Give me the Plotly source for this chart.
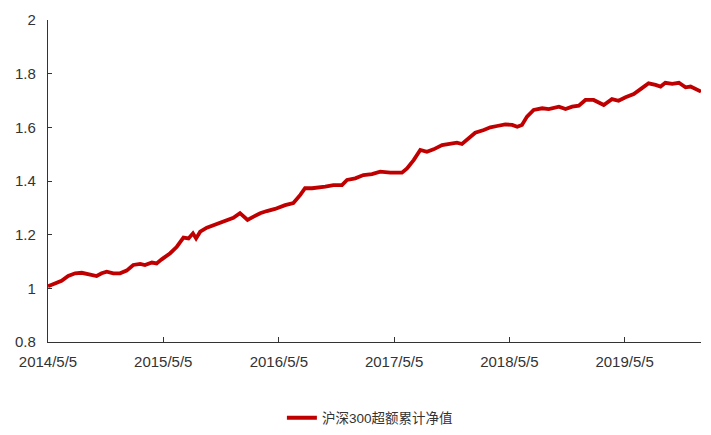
import plotly.graph_objects as go

dates = [
    "2014-05-05", "2014-05-27", "2014-06-17", "2014-07-08", "2014-07-30", "2014-08-20",
    "2014-09-10", "2014-10-06", "2014-10-22", "2014-11-07", "2014-11-28", "2014-12-19",
    "2015-01-09", "2015-01-30", "2015-02-21", "2015-03-08", "2015-03-30", "2015-04-14",
    "2015-04-30", "2015-05-27", "2015-06-17", "2015-07-08", "2015-07-24", "2015-08-07",
    "2015-08-17", "2015-08-30", "2015-09-20", "2015-10-11", "2015-11-01", "2015-11-22",
    "2015-12-13", "2016-01-03", "2016-01-27", "2016-02-15", "2016-03-07", "2016-03-28",
    "2016-04-23", "2016-05-25", "2016-06-20", "2016-07-12", "2016-07-27", "2016-08-18",
    "2016-09-08", "2016-09-29", "2016-10-25", "2016-11-21", "2016-12-07", "2017-01-02",
    "2017-01-28", "2017-02-24", "2017-03-22", "2017-04-23", "2017-05-30", "2017-06-15",
    "2017-07-06", "2017-07-27", "2017-08-17", "2017-09-07", "2017-10-04", "2017-10-30",
    "2017-11-20", "2017-12-06", "2017-12-27", "2018-01-17", "2018-02-13", "2018-03-06",
    "2018-03-27", "2018-04-22", "2018-05-14", "2018-05-30", "2018-06-14", "2018-06-30",
    "2018-07-21", "2018-08-17", "2018-09-07", "2018-10-09", "2018-10-30", "2018-11-20",
    "2018-12-11", "2019-01-01", "2019-01-27", "2019-02-17", "2019-02-28", "2019-03-26",
    "2019-04-16", "2019-05-08", "2019-06-03", "2019-06-29", "2019-07-20", "2019-08-11",
    "2019-08-27", "2019-09-11", "2019-10-03", "2019-10-24", "2019-11-14", "2019-11-30",
    "2019-12-21", "2020-01-02",
]
excess_nav = [
    1.008, 1.019, 1.028, 1.046, 1.056, 1.058,
    1.053, 1.046, 1.056, 1.062, 1.056, 1.056,
    1.066, 1.087, 1.091, 1.087, 1.096, 1.093,
    1.108, 1.131, 1.155, 1.189, 1.186, 1.205,
    1.186, 1.211, 1.226, 1.236, 1.246, 1.255,
    1.263, 1.280, 1.255, 1.267, 1.280, 1.288,
    1.296, 1.310, 1.318, 1.348, 1.373, 1.373,
    1.375, 1.379, 1.385, 1.385, 1.404, 1.410,
    1.422, 1.426, 1.435, 1.431, 1.431, 1.447,
    1.478, 1.516, 1.509, 1.518, 1.534, 1.541,
    1.543, 1.538, 1.559, 1.580, 1.590, 1.600,
    1.605, 1.611, 1.609, 1.602, 1.609, 1.640,
    1.665, 1.671, 1.668, 1.677, 1.668, 1.677,
    1.681, 1.702, 1.702, 1.690, 1.683, 1.705,
    1.699, 1.712, 1.724, 1.746, 1.764, 1.758,
    1.752, 1.766, 1.762, 1.766, 1.749, 1.752,
    1.742, 1.733,
]
series_name = "沪深300超额累计净值"

x_tick_vals = ["2014-05-05", "2015-05-05", "2016-05-05", "2017-05-05", "2018-05-05", "2019-05-05"]
x_tick_text = ["2014/5/5", "2015/5/5", "2016/5/5", "2017/5/5", "2018/5/5", "2019/5/5"]
y_tick_vals = [0.8, 1.0, 1.2, 1.4, 1.6, 1.8, 2.0]
y_tick_text = ["0.8", "1", "1.2", "1.4", "1.6", "1.8", "2"]

fig = go.Figure()
fig.add_trace(go.Scatter(
    x=dates, y=excess_nav, mode="lines", name=series_name,
    line=dict(color="#C00000", width=3.8),
))

axis_font = dict(family="Liberation Sans, Arial, sans-serif", size=15, color="#333333")

fig.update_layout(
    width=711, height=435,
    margin=dict(l=40, r=18, t=12, b=101),
    paper_bgcolor="white", plot_bgcolor="white",
    showlegend=True,
    legend=dict(
        orientation="h", xref="container", yref="container",
        x=0.509, xanchor="center", y=0.0575, yanchor="middle",
        font=dict(family="Liberation Sans, Noto Sans CJK SC, sans-serif", size=13.5, color="#333333"),
        itemwidth=30,
    ),
    xaxis=dict(
        type="date", range=["2014-05-05", "2020-01-02"],
        tickmode="array", tickvals=x_tick_vals, ticktext=x_tick_text,
        ticks="inside", ticklen=5, tickcolor="#333333", tickwidth=1,
        showline=True, linecolor="#333333", linewidth=1.3,
        showgrid=False, zeroline=False, tickfont=axis_font,
        ticklabelstandoff=6, automargin=False,
    ),
    yaxis=dict(
        range=[0.8, 2.0],
        tickmode="array", tickvals=y_tick_vals, ticktext=y_tick_text,
        ticks="inside", ticklen=4, tickcolor="#333333", tickwidth=1,
        showline=True, linecolor="#333333", linewidth=1.3,
        showgrid=False, zeroline=False, tickfont=axis_font,
        ticklabelstandoff=8, automargin=False,
    ),
)

fig.write_html("out.html")
